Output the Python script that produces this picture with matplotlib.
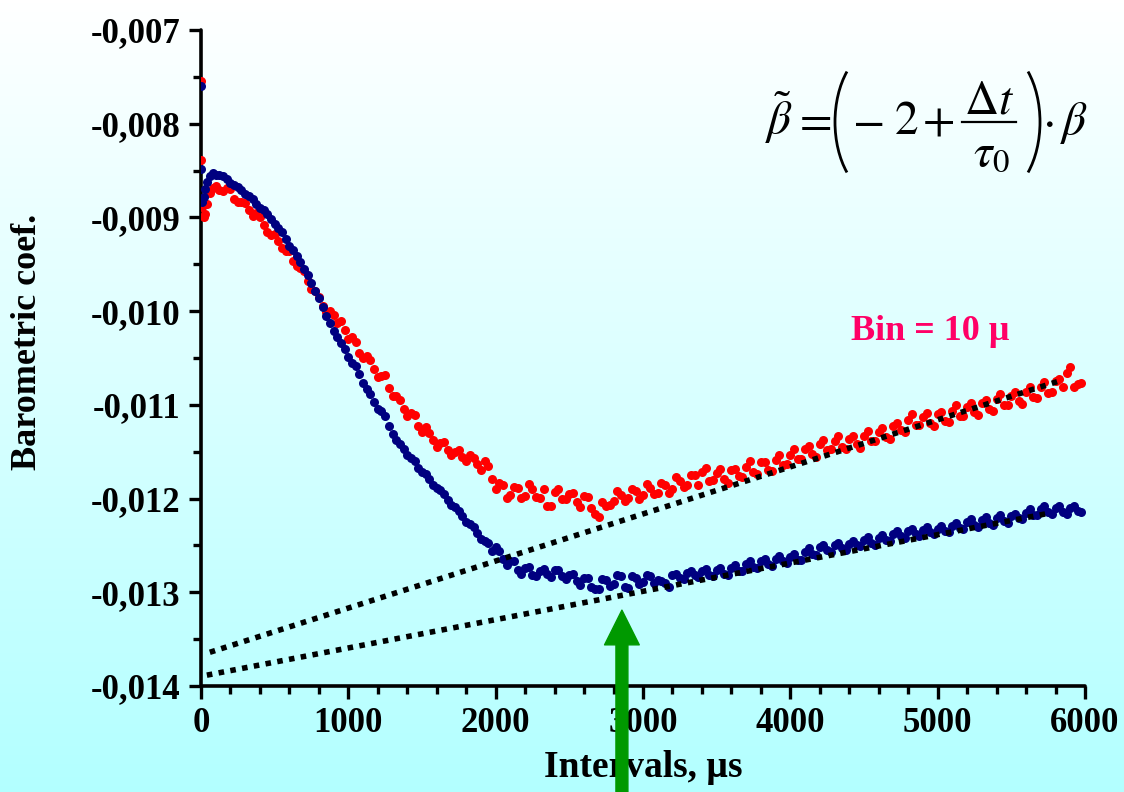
import numpy as np
import matplotlib
matplotlib.use("Agg")
import matplotlib.pyplot as plt
from matplotlib.patches import Arc
from matplotlib.ticker import MultipleLocator, FuncFormatter

plt.rcParams['font.family'] = ['Liberation Serif', 'DejaVu Serif']
plt.rcParams['mathtext.fontset'] = 'stix'

# ------------------------------------------------------------
# data (barometric coef. in units of 1e-6)
# ------------------------------------------------------------
head_x = [0, 0, 10, 20, 30, 40, 60, 80]
red_head = [-7540, -8390, -8890, -9000, -8960, -8860, -8740, -8690]
blue_head = [-7600, -8480, -8840, -8780, -8700, -8620, -8560, -8530]

# bins 100, 150, ... 5950 us
tail_x = np.arange(100, 6000, 50)
red_tail = [
    -8660, -8720, -8700, -8840, -8850, -8980, -8990, -9150, -9180, -9330,
    -9360, -9520, -9570, -9760, -9850, -10010, -10040, -10110, -10300, -10330,
    -10500, -10520, -10700, -10680, -10900, -10950, -11120, -11110, -11290, -11300,
    -11450, -11400, -11540, -11480, -11600, -11570, -11690, -11650, -11900, -11860,
    -11960, -11890, -11970, -11900, -11990, -12080, -11930, -12000, -11950, -12040,
    -11970, -12100, -12200, -12080, -12030, -11960, -11990, -11920, -11960, -11890,
    -11940, -11850, -11900, -11810, -11860, -11750, -11720, -11810, -11730, -11790,
    -11700, -11760, -11660, -11720, -11610, -11690, -11590, -11640, -11530, -11580,
    -11470, -11520, -11420, -11480, -11390, -11450, -11360, -11420, -11330, -11390,
    -11290, -11340, -11230, -11270, -11160, -11220, -11130, -11190, -11100, -11170,
    -11070, -11120, -11020, -11080, -10980, -11040, -10940, -11000, -10900, -10960,
    -10860, -10920, -10810, -10870, -10750, -10810, -10600, -10780,
]
blue_tail = [
    -8550, -8560, -8630, -8670, -8750, -8800, -8900, -8960, -9070, -9160,
    -9300, -9410, -9550, -9700, -9860, -10050, -10210, -10340, -10490, -10580,
    -10770, -10880, -11040, -11120, -11310, -11420, -11540, -11600, -11720, -11790,
    -11890, -11950, -12070, -12130, -12250, -12300, -12430, -12470, -12520, -12640,
    -12670, -12760, -12740, -12810, -12770, -12800, -12760, -12830, -12810, -12880,
    -12850, -12940, -12960, -12870, -12910, -12830, -12950, -12850, -12890, -12830,
    -12870, -12900, -12820, -12850, -12790, -12820, -12770, -12810, -12760, -12800,
    -12740, -12770, -12700, -12730, -12670, -12700, -12640, -12670, -12620, -12650,
    -12570, -12590, -12520, -12550, -12500, -12530, -12480, -12500, -12440, -12470,
    -12420, -12440, -12380, -12400, -12350, -12380, -12330, -12360, -12320, -12350,
    -12290, -12310, -12250, -12280, -12230, -12260, -12210, -12240, -12190, -12210,
    -12150, -12170, -12110, -12140, -12100, -12140, -12100, -12130,
]

# bins 125, 175, ... 5975 us
mid_x = np.arange(125, 6000, 50)
red_mid = [
    -8710, -8690, -8800, -8830, -8920, -8950, -9080, -9190, -9250, -9360,
    -9470, -9540, -9680, -9790, -9950, -10000, -10130, -10200, -10280, -10450,
    -10480, -10620, -10690, -10820, -10900, -11040, -11090, -11230, -11240, -11380,
    -11410, -11480, -11500, -11560, -11540, -11630, -11600, -11790, -11830, -11990,
    -11880, -11995, -11845, -11985, -11895, -12080, -11895, -12005, -11935, -12085,
    -11980, -12160, -12040, -12070, -11915, -12025, -11895, -12005, -11845, -11950,
    -11830, -11935, -11765, -11880, -11745, -11860, -11670, -11805, -11685, -11835,
    -11680, -11770, -11600, -11740, -11610, -11710, -11540, -11635, -11475, -11580,
    -11440, -11560, -11380, -11475, -11330, -11475, -11330, -11465, -11280, -11390,
    -11245, -11365, -11190, -11285, -11100, -11215, -11090, -11225, -11075, -11180,
    -11005, -11120, -10980, -11110, -10950, -11060, -10880, -11005, -10865, -10990,
    -10810, -10930, -10755, -10865, -10725, -10655, -10810, -10770,
]
blue_mid = [
    -8550, -8590, -8650, -8710, -8770, -8860, -8920, -9020, -9110, -9230,
    -9350, -9480, -9610, -9790, -9960, -10130, -10280, -10400, -10550, -10670,
    -10830, -10970, -11070, -11230, -11370, -11470, -11570, -11670, -11740, -11850,
    -11910, -12020, -12090, -12190, -12270, -12370, -12450, -12560, -12560, -12710,
    -12670, -12800, -12730, -12830, -12750, -12840, -12760, -12860, -12800, -12920,
    -12850, -12960, -12860, -12930, -12820, -12940, -12830, -12910, -12820, -12900,
    -12880, -12940, -12800, -12860, -12770, -12840, -12750, -12830, -12740, -12810,
    -12710, -12770, -12670, -12740, -12640, -12720, -12610, -12690, -12590, -12650,
    -12530, -12600, -12490, -12570, -12470, -12550, -12450, -12510, -12410, -12490,
    -12390, -12450, -12350, -12420, -12320, -12400, -12300, -12380, -12290, -12360,
    -12260, -12320, -12220, -12300, -12200, -12280, -12180, -12260, -12160, -12220,
    -12110, -12180, -12080, -12160, -12080, -12160, -12080, -12140,
]

# linear fits (dotted)
fit_upper_x = [60, 5845]
fit_upper_y = [-13640, -10735]
fit_lower_x = [40, 5760]
fit_lower_y = [-13884, -12155]

# arrow marking the minimum
arrow_x = 2857
arrow_tip = -13190

red_x = np.concatenate([head_x, tail_x, mid_x])
red_y = np.array(red_head + red_tail + red_mid) * 1e-6
blue_x = np.concatenate([head_x, tail_x, mid_x])
blue_y = np.array(blue_head + blue_tail + blue_mid) * 1e-6

# ------------------------------------------------------------
# figure
# ------------------------------------------------------------
fig = plt.figure(figsize=(11.24, 7.92), dpi=100)

# background gradient white -> light cyan
bg = fig.add_axes([0, 0, 1, 1], zorder=-10)
grad = np.linspace(0, 1, 256)[:, None]
img = np.dstack([1 - 0.30 * grad, np.ones_like(grad), np.ones_like(grad)])
bg.imshow(img, aspect='auto', extent=[0, 1, 0, 1], origin='upper')
bg.axis('off')

ax = fig.add_axes([0.1788, 0.1338, 0.9653 - 0.1788, 0.9621 - 0.1338])
ax.patch.set_alpha(0)

ax.plot(red_x, red_y, 'o', color='#FF0000', markersize=6.5, markeredgewidth=0, zorder=3)
ax.plot(blue_x, blue_y, 'o', color='#000080', markersize=6.5, markeredgewidth=0, zorder=4)

ax.plot(fit_upper_x, np.array(fit_upper_y) * 1e-6, color='black', lw=4.0,
        dashes=(1, 1.15), dash_capstyle='butt', zorder=5)
ax.plot(fit_lower_x, np.array(fit_lower_y) * 1e-6, color='black', lw=4.0,
        dashes=(1, 1.15), dash_capstyle='butt', zorder=5)

ax.annotate('', xy=(arrow_x, arrow_tip * 1e-6), xytext=(arrow_x, -0.0154),
            arrowprops=dict(width=8.6, headwidth=25, headlength=25,
                            color='#009900', shrink=0),
            annotation_clip=False, zorder=6)

ax.set_xlim(0, 6000)
ax.set_ylim(-0.014, -0.007)

for s in ['top', 'right']:
    ax.spines[s].set_visible(False)
for s in ['left', 'bottom']:
    ax.spines[s].set_linewidth(2.6)
    ax.spines[s].set_capstyle('round')

ax.xaxis.set_major_locator(MultipleLocator(1000))
ax.xaxis.set_minor_locator(MultipleLocator(200))
ax.yaxis.set_major_locator(MultipleLocator(0.001))
ax.yaxis.set_minor_locator(MultipleLocator(0.0005))
ax.yaxis.set_major_formatter(FuncFormatter(lambda v, p: f"{v:.3f}".replace('.', ',')))
ax.xaxis.set_major_formatter(FuncFormatter(lambda v, p: f"{v:.0f}"))

ax.tick_params(axis='both', which='major', direction='out', width=2.4, length=9,
               labelsize=25, pad=6)
ax.tick_params(axis='both', which='minor', direction='out', width=2.4, length=5.5)
for lab in ax.get_xticklabels() + ax.get_yticklabels():
    lab.set_fontweight('bold')

ax.set_xlabel('Intervals, µs', fontsize=27, fontweight='bold', labelpad=7)
ax.set_ylabel('Barometric coef.', fontsize=26, fontweight='bold')
ax.yaxis.set_label_coords(-0.178, 0.525)

# formula, laid out piece by piece in figure pixels (y downwards)
ov = fig.add_axes([0, 0, 1, 1], zorder=8)
ov.set_xlim(0, 1124)
ov.set_ylim(792, 0)
ov.axis('off')

fs = 34
base = 134
ov.text(779, base, r'$\tilde{\beta}$', fontsize=fs, ha='center', va='baseline')
ov.text(812, base, r'$=$', fontsize=fs, ha='center', va='baseline')
ov.text(868, base, r'$-$', fontsize=fs, ha='center', va='baseline')
ov.text(906, base, r'$2$', fontsize=fs, ha='center', va='baseline')
ov.text(938, base, r'$+$', fontsize=fs, ha='center', va='baseline')
ov.text(989, 113, r'$\Delta t$', fontsize=fs, ha='center', va='baseline')
ov.plot([962, 1016], [122, 122], color='black', lw=1.6)
ov.text(991, 166, r'$\tau_0$', fontsize=fs, ha='center', va='baseline')
ov.text(1048, base, r'$\cdot$', fontsize=fs, ha='center', va='baseline')
ov.text(1074, base, r'$\beta$', fontsize=fs, ha='center', va='baseline')
ov.add_patch(Arc((881, 122), 92, 150, theta1=124, theta2=236, color='black', lw=2.0))
ov.add_patch(Arc((994, 122), 92, 150, theta1=-56, theta2=56, color='black', lw=2.0))

fig.text(0.828, 0.581, 'Bin = 10 µ', color='#FF0066', fontsize=26,
         fontweight='bold', ha='center', va='center')

fig.savefig('out.png', dpi=100)
